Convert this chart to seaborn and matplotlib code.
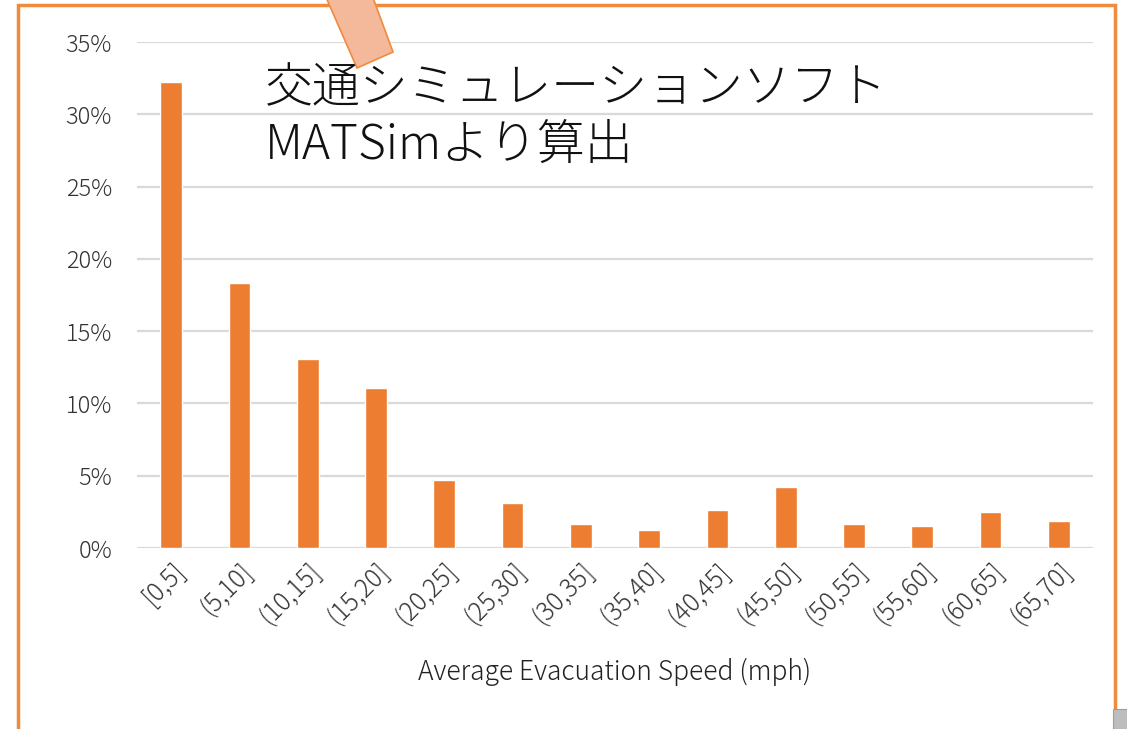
import matplotlib
matplotlib.use("Agg")
import matplotlib.pyplot as plt
import seaborn as sns
import pandas as pd
from matplotlib.patches import Polygon, Rectangle
from matplotlib.ticker import FuncFormatter

categories = ["[0,5]", "(5,10]", "(10,15]", "(15,20]", "(20,25]", "(25,30]", "(30,35]",
              "(35,40]", "(40,45]", "(45,50]", "(50,55]", "(55,60]", "(60,65]", "(65,70]"]
shares = [32.2, 18.3, 13.1, 11.1, 4.7, 3.1, 1.65, 1.25, 2.65, 4.25, 1.65, 1.5, 2.5, 1.85]
y_ticks = [0, 5, 10, 15, 20, 25, 30, 35]
x_label = "Average Evacuation Speed (mph)"
note_text = "交通シミュレーションソフト\nMATSimより算出"

sns.set_theme(style="white")
plt.rcParams['font.family'] = ['Noto Sans CJK JP', 'DejaVu Sans']
plt.rcParams['font.weight'] = 'light'

df = pd.DataFrame({"speed": categories, "share": shares})

fig = plt.figure(figsize=(11.27, 7.29), dpi=100)
ax = fig.add_axes([137/1127, 1-548/729, (1093-137)/1127, (548-42)/729])

sns.barplot(data=df, x="speed", y="share", color="#ED7D31", width=0.32,
            saturation=1, ax=ax, zorder=3)

ax.set_ylim(0, 35)
ax.set_xlim(-0.5, len(categories) - 0.5)
ax.set_yticks(y_ticks)
ax.yaxis.set_major_formatter(FuncFormatter(lambda v, p: f"{int(v)}%"))
ax.yaxis.grid(True, color="#D9D9D9", linewidth=1.6, zorder=0)
ax.set_axisbelow(True)
for s in ax.spines.values():
    s.set_visible(False)
ax.tick_params(axis="y", length=0, pad=18, labelsize=17, labelcolor="#333333")
ax.tick_params(axis="x", length=0, pad=7, labelsize=18, labelcolor="#333333")
for lab in ax.get_xticklabels() + ax.get_yticklabels():
    lab.set_fontweight("light")
for lab in ax.get_xticklabels():
    lab.set_rotation(45)
    lab.set_ha("right")
    lab.set_rotation_mode("anchor")
ax.set_xlabel(x_label, fontsize=19, color="#222222", labelpad=20, fontweight="light")
ax.set_ylabel("")

# outer orange frame
fig.patches.append(Rectangle((18/1127, -0.05), (1115-18)/1127, 1.05 - 5/729,
                             transform=fig.transFigure, fill=False,
                             edgecolor="#F08A3C", linewidth=2.5, zorder=1))
# gray corner element
fig.patches.append(Rectangle((1113/1127, 0), 14/1127, 20/729, transform=fig.transFigure,
                             facecolor="#BDBDBD", edgecolor="#9E9E9E", linewidth=0.8, zorder=2))
# callout pointer shape
pts = [(325, -5), (372, -5), (393, 52), (357, 68)]
fig.patches.append(Polygon([(x/1127, 1 - y/729) for x, y in pts], closed=True,
                           transform=fig.transFigure, facecolor="#F4B99B",
                           edgecolor="#F08A3C", linewidth=1.2, zorder=5))

fig.text(265/1127, 1 - 117/729, note_text, fontsize=34.5, color="#111111",
         ha="left", va="center", linespacing=1.22, zorder=6, fontweight="light")

fig.savefig("out.png", dpi=100, facecolor="white")
